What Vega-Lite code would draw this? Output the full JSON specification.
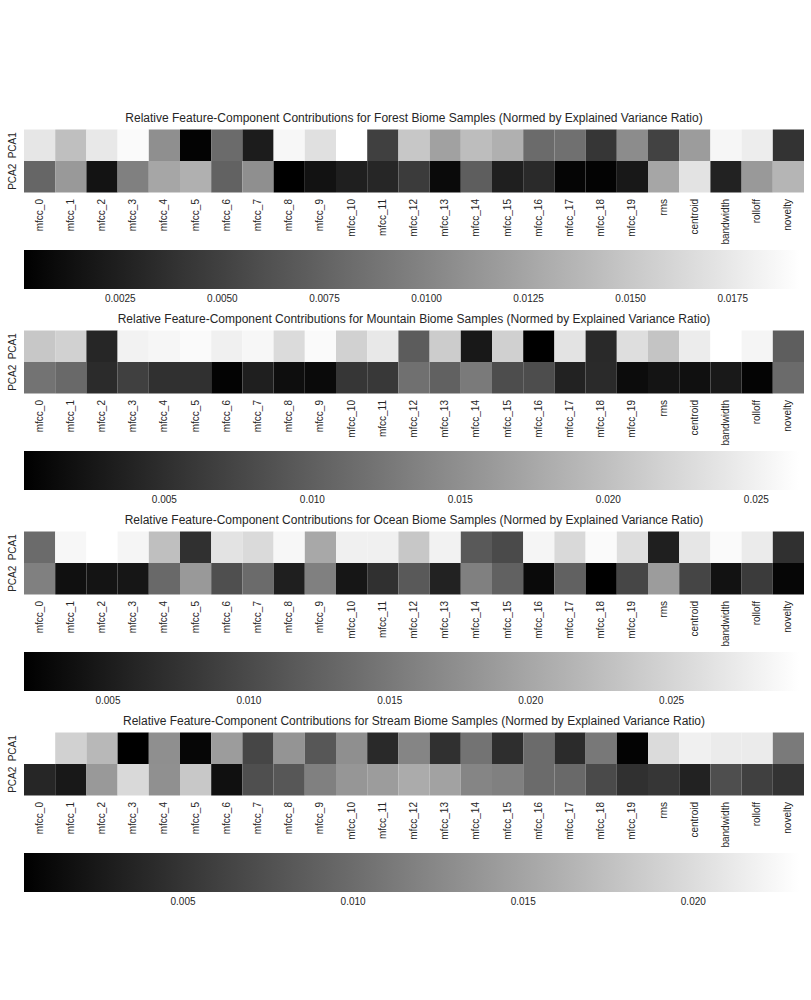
{
"$schema": "https://vega.github.io/schema/vega-lite/v6.json",
"padding": {"left": 7, "top": 111.5, "right": 0, "bottom": 0},
"background": "white",
"data": {"values": [
{"b":"Forest","f":"mfcc_0","pc":"PCA1","v":0.017226},{"b":"Forest","f":"mfcc_1","pc":"PCA1","v":0.014378},{"b":"Forest","f":"mfcc_2","pc":"PCA1","v":0.017416},{"b":"Forest","f":"mfcc_3","pc":"PCA1","v":0.018744},{"b":"Forest","f":"mfcc_4","pc":"PCA1","v":0.010771},{"b":"Forest","f":"mfcc_5","pc":"PCA1","v":0.000331},{"b":"Forest","f":"mfcc_6","pc":"PCA1","v":0.008114},{"b":"Forest","f":"mfcc_7","pc":"PCA1","v":0.002229},{"b":"Forest","f":"mfcc_8","pc":"PCA1","v":0.018555},{"b":"Forest","f":"mfcc_9","pc":"PCA1","v":0.016846},{"b":"Forest","f":"mfcc_10","pc":"PCA1","v":0.019124},{"b":"Forest","f":"mfcc_11","pc":"PCA1","v":0.004887},{"b":"Forest","f":"mfcc_12","pc":"PCA1","v":0.014948},{"b":"Forest","f":"mfcc_13","pc":"PCA1","v":0.0121},{"b":"Forest","f":"mfcc_14","pc":"PCA1","v":0.014188},{"b":"Forest","f":"mfcc_15","pc":"PCA1","v":0.013239},{"b":"Forest","f":"mfcc_16","pc":"PCA1","v":0.008114},{"b":"Forest","f":"mfcc_17","pc":"PCA1","v":0.008494},{"b":"Forest","f":"mfcc_18","pc":"PCA1","v":0.004127},{"b":"Forest","f":"mfcc_19","pc":"PCA1","v":0.010582},{"b":"Forest","f":"rms","pc":"PCA1","v":0.005077},{"b":"Forest","f":"centroid","pc":"PCA1","v":0.011721},{"b":"Forest","f":"bandwidth","pc":"PCA1","v":0.01846},{"b":"Forest","f":"rolloff","pc":"PCA1","v":0.017795},{"b":"Forest","f":"novelty","pc":"PCA1","v":0.003938},
{"b":"Forest","f":"mfcc_0","pc":"PCA2","v":0.007734},{"b":"Forest","f":"mfcc_1","pc":"PCA2","v":0.011531},{"b":"Forest","f":"mfcc_2","pc":"PCA2","v":0.001565},{"b":"Forest","f":"mfcc_3","pc":"PCA2","v":0.009633},{"b":"Forest","f":"mfcc_4","pc":"PCA2","v":0.01248},{"b":"Forest","f":"mfcc_5","pc":"PCA2","v":0.013239},{"b":"Forest","f":"mfcc_6","pc":"PCA2","v":0.007449},{"b":"Forest","f":"mfcc_7","pc":"PCA2","v":0.010771},{"b":"Forest","f":"mfcc_8","pc":"PCA2","v":0.000141},{"b":"Forest","f":"mfcc_9","pc":"PCA2","v":0.00147},{"b":"Forest","f":"mfcc_10","pc":"PCA2","v":0.002419},{"b":"Forest","f":"mfcc_11","pc":"PCA2","v":0.002988},{"b":"Forest","f":"mfcc_12","pc":"PCA2","v":0.004507},{"b":"Forest","f":"mfcc_13","pc":"PCA2","v":0.0009},{"b":"Forest","f":"mfcc_14","pc":"PCA2","v":0.007165},{"b":"Forest","f":"mfcc_15","pc":"PCA2","v":0.002419},{"b":"Forest","f":"mfcc_16","pc":"PCA2","v":0.003273},{"b":"Forest","f":"mfcc_17","pc":"PCA2","v":0.000521},{"b":"Forest","f":"mfcc_18","pc":"PCA2","v":0.000331},{"b":"Forest","f":"mfcc_19","pc":"PCA2","v":0.001944},{"b":"Forest","f":"rms","pc":"PCA2","v":0.01248},{"b":"Forest","f":"centroid","pc":"PCA2","v":0.017036},{"b":"Forest","f":"bandwidth","pc":"PCA2","v":0.002704},{"b":"Forest","f":"rolloff","pc":"PCA2","v":0.011531},{"b":"Forest","f":"novelty","pc":"PCA2","v":0.013619},
{"b":"Mountain","f":"mfcc_0","pc":"PCA1","v":0.02068},{"b":"Mountain","f":"mfcc_1","pc":"PCA1","v":0.021727},{"b":"Mountain","f":"mfcc_2","pc":"PCA1","v":0.004184},{"b":"Mountain","f":"mfcc_3","pc":"PCA1","v":0.025131},{"b":"Mountain","f":"mfcc_4","pc":"PCA1","v":0.025524},{"b":"Mountain","f":"mfcc_5","pc":"PCA1","v":0.025916},{"b":"Mountain","f":"mfcc_6","pc":"PCA1","v":0.024869},{"b":"Mountain","f":"mfcc_7","pc":"PCA1","v":0.025655},{"b":"Mountain","f":"mfcc_8","pc":"PCA1","v":0.022774},{"b":"Mountain","f":"mfcc_9","pc":"PCA1","v":0.025916},{"b":"Mountain","f":"mfcc_10","pc":"PCA1","v":0.021727},{"b":"Mountain","f":"mfcc_11","pc":"PCA1","v":0.024084},{"b":"Mountain","f":"mfcc_12","pc":"PCA1","v":0.009683},{"b":"Mountain","f":"mfcc_13","pc":"PCA1","v":0.021203},{"b":"Mountain","f":"mfcc_14","pc":"PCA1","v":0.002744},{"b":"Mountain","f":"mfcc_15","pc":"PCA1","v":0.021596},{"b":"Mountain","f":"mfcc_16","pc":"PCA1","v":0.000257},{"b":"Mountain","f":"mfcc_17","pc":"PCA1","v":0.02356},{"b":"Mountain","f":"mfcc_18","pc":"PCA1","v":0.004446},{"b":"Mountain","f":"mfcc_19","pc":"PCA1","v":0.023036},{"b":"Mountain","f":"rms","pc":"PCA1","v":0.020418},{"b":"Mountain","f":"centroid","pc":"PCA1","v":0.024476},{"b":"Mountain","f":"bandwidth","pc":"PCA1","v":0.02644},{"b":"Mountain","f":"rolloff","pc":"PCA1","v":0.025393},{"b":"Mountain","f":"novelty","pc":"PCA1","v":0.009945},
{"b":"Mountain","f":"mfcc_0","pc":"PCA2","v":0.012039},{"b":"Mountain","f":"mfcc_1","pc":"PCA2","v":0.010992},{"b":"Mountain","f":"mfcc_2","pc":"PCA2","v":0.004708},{"b":"Mountain","f":"mfcc_3","pc":"PCA2","v":0.006803},{"b":"Mountain","f":"mfcc_4","pc":"PCA2","v":0.005232},{"b":"Mountain","f":"mfcc_5","pc":"PCA2","v":0.005232},{"b":"Mountain","f":"mfcc_6","pc":"PCA2","v":0.000519},{"b":"Mountain","f":"mfcc_7","pc":"PCA2","v":0.003399},{"b":"Mountain","f":"mfcc_8","pc":"PCA2","v":0.001697},{"b":"Mountain","f":"mfcc_9","pc":"PCA2","v":0.001304},{"b":"Mountain","f":"mfcc_10","pc":"PCA2","v":0.005755},{"b":"Mountain","f":"mfcc_11","pc":"PCA2","v":0.006017},{"b":"Mountain","f":"mfcc_12","pc":"PCA2","v":0.011778},{"b":"Mountain","f":"mfcc_13","pc":"PCA2","v":0.010207},{"b":"Mountain","f":"mfcc_14","pc":"PCA2","v":0.012825},{"b":"Mountain","f":"mfcc_15","pc":"PCA2","v":0.008112},{"b":"Mountain","f":"mfcc_16","pc":"PCA2","v":0.008112},{"b":"Mountain","f":"mfcc_17","pc":"PCA2","v":0.003792},{"b":"Mountain","f":"mfcc_18","pc":"PCA2","v":0.004577},{"b":"Mountain","f":"mfcc_19","pc":"PCA2","v":0.001488},{"b":"Mountain","f":"rms","pc":"PCA2","v":0.002352},{"b":"Mountain","f":"centroid","pc":"PCA2","v":0.001907},{"b":"Mountain","f":"bandwidth","pc":"PCA2","v":0.002875},{"b":"Mountain","f":"rolloff","pc":"PCA2","v":0.00065},{"b":"Mountain","f":"novelty","pc":"PCA2","v":0.011254},
{"b":"Ocean","f":"mfcc_0","pc":"PCA1","v":0.01357},{"b":"Ocean","f":"mfcc_1","pc":"PCA1","v":0.028695},{"b":"Ocean","f":"mfcc_2","pc":"PCA1","v":0.02952},{"b":"Ocean","f":"mfcc_3","pc":"PCA1","v":0.02842},{"b":"Ocean","f":"mfcc_4","pc":"PCA1","v":0.022645},{"b":"Ocean","f":"mfcc_5","pc":"PCA1","v":0.007245},{"b":"Ocean","f":"mfcc_6","pc":"PCA1","v":0.026495},{"b":"Ocean","f":"mfcc_7","pc":"PCA1","v":0.025533},{"b":"Ocean","f":"mfcc_8","pc":"PCA1","v":0.028695},{"b":"Ocean","f":"mfcc_9","pc":"PCA1","v":0.02017},{"b":"Ocean","f":"mfcc_10","pc":"PCA1","v":0.02787},{"b":"Ocean","f":"mfcc_11","pc":"PCA1","v":0.02787},{"b":"Ocean","f":"mfcc_12","pc":"PCA1","v":0.02347},{"b":"Ocean","f":"mfcc_13","pc":"PCA1","v":0.028145},{"b":"Ocean","f":"mfcc_14","pc":"PCA1","v":0.011645},{"b":"Ocean","f":"mfcc_15","pc":"PCA1","v":0.009995},{"b":"Ocean","f":"mfcc_16","pc":"PCA1","v":0.02842},{"b":"Ocean","f":"mfcc_17","pc":"PCA1","v":0.025395},{"b":"Ocean","f":"mfcc_18","pc":"PCA1","v":0.02897},{"b":"Ocean","f":"mfcc_19","pc":"PCA1","v":0.025945},{"b":"Ocean","f":"rms","pc":"PCA1","v":0.00532},{"b":"Ocean","f":"centroid","pc":"PCA1","v":0.02677},{"b":"Ocean","f":"bandwidth","pc":"PCA1","v":0.02897},{"b":"Ocean","f":"rolloff","pc":"PCA1","v":0.02732},{"b":"Ocean","f":"novelty","pc":"PCA1","v":0.007245},
{"b":"Ocean","f":"mfcc_0","pc":"PCA2","v":0.01577},{"b":"Ocean","f":"mfcc_1","pc":"PCA2","v":0.003753},{"b":"Ocean","f":"mfcc_2","pc":"PCA2","v":0.00422},{"b":"Ocean","f":"mfcc_3","pc":"PCA2","v":0.004385},{"b":"Ocean","f":"mfcc_4","pc":"PCA2","v":0.013295},{"b":"Ocean","f":"mfcc_5","pc":"PCA2","v":0.01852},{"b":"Ocean","f":"mfcc_6","pc":"PCA2","v":0.010545},{"b":"Ocean","f":"mfcc_7","pc":"PCA2","v":0.01357},{"b":"Ocean","f":"mfcc_8","pc":"PCA2","v":0.00532},{"b":"Ocean","f":"mfcc_9","pc":"PCA2","v":0.01577},{"b":"Ocean","f":"mfcc_10","pc":"PCA2","v":0.004385},{"b":"Ocean","f":"mfcc_11","pc":"PCA2","v":0.007245},{"b":"Ocean","f":"mfcc_12","pc":"PCA2","v":0.011645},{"b":"Ocean","f":"mfcc_13","pc":"PCA2","v":0.005733},{"b":"Ocean","f":"mfcc_14","pc":"PCA2","v":0.01577},{"b":"Ocean","f":"mfcc_15","pc":"PCA2","v":0.01247},{"b":"Ocean","f":"mfcc_16","pc":"PCA2","v":0.00312},{"b":"Ocean","f":"mfcc_17","pc":"PCA2","v":0.01247},{"b":"Ocean","f":"mfcc_18","pc":"PCA2","v":0.00202},{"b":"Ocean","f":"mfcc_19","pc":"PCA2","v":0.009583},{"b":"Ocean","f":"rms","pc":"PCA2","v":0.018795},{"b":"Ocean","f":"centroid","pc":"PCA2","v":0.009445},{"b":"Ocean","f":"bandwidth","pc":"PCA2","v":0.003945},{"b":"Ocean","f":"rolloff","pc":"PCA2","v":0.008345},{"b":"Ocean","f":"novelty","pc":"PCA2","v":0.002708},
{"b":"Stream","f":"mfcc_0","pc":"PCA1","v":0.023107},{"b":"Stream","f":"mfcc_1","pc":"PCA1","v":0.019006},{"b":"Stream","f":"mfcc_2","pc":"PCA1","v":0.016728},{"b":"Stream","f":"mfcc_3","pc":"PCA1","v":0.000326},{"b":"Stream","f":"mfcc_4","pc":"PCA1","v":0.013083},{"b":"Stream","f":"mfcc_5","pc":"PCA1","v":0.000896},{"b":"Stream","f":"mfcc_6","pc":"PCA1","v":0.014222},{"b":"Stream","f":"mfcc_7","pc":"PCA1","v":0.006591},{"b":"Stream","f":"mfcc_8","pc":"PCA1","v":0.013539},{"b":"Stream","f":"mfcc_9","pc":"PCA1","v":0.008072},{"b":"Stream","f":"mfcc_10","pc":"PCA1","v":0.013083},{"b":"Stream","f":"mfcc_11","pc":"PCA1","v":0.003971},{"b":"Stream","f":"mfcc_12","pc":"PCA1","v":0.012172},{"b":"Stream","f":"mfcc_13","pc":"PCA1","v":0.004654},{"b":"Stream","f":"mfcc_14","pc":"PCA1","v":0.010577},{"b":"Stream","f":"mfcc_15","pc":"PCA1","v":0.004427},{"b":"Stream","f":"mfcc_16","pc":"PCA1","v":0.009894},{"b":"Stream","f":"mfcc_17","pc":"PCA1","v":0.004199},{"b":"Stream","f":"mfcc_18","pc":"PCA1","v":0.011033},{"b":"Stream","f":"mfcc_19","pc":"PCA1","v":0.000554},{"b":"Stream","f":"rms","pc":"PCA1","v":0.019918},{"b":"Stream","f":"centroid","pc":"PCA1","v":0.02174},{"b":"Stream","f":"bandwidth","pc":"PCA1","v":0.021285},{"b":"Stream","f":"rolloff","pc":"PCA1","v":0.021285},{"b":"Stream","f":"novelty","pc":"PCA1","v":0.011261},
{"b":"Stream","f":"mfcc_0","pc":"PCA2","v":0.003743},{"b":"Stream","f":"mfcc_1","pc":"PCA2","v":0.00249},{"b":"Stream","f":"mfcc_2","pc":"PCA2","v":0.013995},{"b":"Stream","f":"mfcc_3","pc":"PCA2","v":0.01969},{"b":"Stream","f":"mfcc_4","pc":"PCA2","v":0.013197},{"b":"Stream","f":"mfcc_5","pc":"PCA2","v":0.018209},{"b":"Stream","f":"mfcc_6","pc":"PCA2","v":0.001761},{"b":"Stream","f":"mfcc_7","pc":"PCA2","v":0.007388},{"b":"Stream","f":"mfcc_8","pc":"PCA2","v":0.008072},{"b":"Stream","f":"mfcc_9","pc":"PCA2","v":0.011717},{"b":"Stream","f":"mfcc_10","pc":"PCA2","v":0.013767},{"b":"Stream","f":"mfcc_11","pc":"PCA2","v":0.014222},{"b":"Stream","f":"mfcc_12","pc":"PCA2","v":0.015589},{"b":"Stream","f":"mfcc_13","pc":"PCA2","v":0.014792},{"b":"Stream","f":"mfcc_14","pc":"PCA2","v":0.012172},{"b":"Stream","f":"mfcc_15","pc":"PCA2","v":0.011717},{"b":"Stream","f":"mfcc_16","pc":"PCA2","v":0.009894},{"b":"Stream","f":"mfcc_17","pc":"PCA2","v":0.009666},{"b":"Stream","f":"mfcc_18","pc":"PCA2","v":0.006932},{"b":"Stream","f":"mfcc_19","pc":"PCA2","v":0.004654},{"b":"Stream","f":"rms","pc":"PCA2","v":0.00511},{"b":"Stream","f":"centroid","pc":"PCA2","v":0.003401},{"b":"Stream","f":"bandwidth","pc":"PCA2","v":0.007274},{"b":"Stream","f":"rolloff","pc":"PCA2","v":0.006021},{"b":"Stream","f":"novelty","pc":"PCA2","v":0.004882}
]},
"vconcat": [
{"title": "Relative Feature-Component Contributions for Forest Biome Samples (Normed by Explained Variance Ratio)",
 "width": 780, "height": 63,
 "transform": [{"filter": "datum.b === 'Forest'"}],
 "mark": {"type": "rect"},
 "encoding": {
  "x": {"field": "f", "type": "nominal", "title": null, "sort": ["mfcc_0","mfcc_1","mfcc_2","mfcc_3","mfcc_4","mfcc_5","mfcc_6","mfcc_7","mfcc_8","mfcc_9","mfcc_10","mfcc_11","mfcc_12","mfcc_13","mfcc_14","mfcc_15","mfcc_16","mfcc_17","mfcc_18","mfcc_19","rms","centroid","bandwidth","rolloff","novelty"]},
  "y": {"field": "pc", "type": "nominal", "title": null, "sort": ["PCA1","PCA2"]},
  "color": {"field": "v", "type": "quantitative", "scale": {"domain": [0.000141, 0.019124], "range": ["#000000", "#ffffff"], "interpolate": "rgb"},
   "legend": {"orient": "none", "legendX": 0, "legendY": 120.5, "direction": "horizontal", "gradientLength": 775, "gradientThickness": 39, "labelOffset": 5, "values": [0.0025,0.005,0.0075,0.01,0.0125,0.015,0.0175], "format": ".4f", "title": null}}
 }},
{"title": "Relative Feature-Component Contributions for Mountain Biome Samples (Normed by Explained Variance Ratio)",
 "width": 780, "height": 63,
 "transform": [{"filter": "datum.b === 'Mountain'"}],
 "mark": {"type": "rect"},
 "encoding": {
  "x": {"field": "f", "type": "nominal", "title": null, "sort": ["mfcc_0","mfcc_1","mfcc_2","mfcc_3","mfcc_4","mfcc_5","mfcc_6","mfcc_7","mfcc_8","mfcc_9","mfcc_10","mfcc_11","mfcc_12","mfcc_13","mfcc_14","mfcc_15","mfcc_16","mfcc_17","mfcc_18","mfcc_19","rms","centroid","bandwidth","rolloff","novelty"]},
  "y": {"field": "pc", "type": "nominal", "title": null, "sort": ["PCA1","PCA2"]},
  "color": {"field": "v", "type": "quantitative", "scale": {"domain": [0.000257, 0.02644], "range": ["#000000", "#ffffff"], "interpolate": "rgb"},
   "legend": {"orient": "none", "legendX": 0, "legendY": 120.5, "direction": "horizontal", "gradientLength": 775, "gradientThickness": 39, "labelOffset": 5, "values": [0.005,0.01,0.015,0.02,0.025], "format": ".3f", "title": null}}
 }},
{"title": "Relative Feature-Component Contributions for Ocean Biome Samples (Normed by Explained Variance Ratio)",
 "width": 780, "height": 63,
 "transform": [{"filter": "datum.b === 'Ocean'"}],
 "mark": {"type": "rect"},
 "encoding": {
  "x": {"field": "f", "type": "nominal", "title": null, "sort": ["mfcc_0","mfcc_1","mfcc_2","mfcc_3","mfcc_4","mfcc_5","mfcc_6","mfcc_7","mfcc_8","mfcc_9","mfcc_10","mfcc_11","mfcc_12","mfcc_13","mfcc_14","mfcc_15","mfcc_16","mfcc_17","mfcc_18","mfcc_19","rms","centroid","bandwidth","rolloff","novelty"]},
  "y": {"field": "pc", "type": "nominal", "title": null, "sort": ["PCA1","PCA2"]},
  "color": {"field": "v", "type": "quantitative", "scale": {"domain": [0.00202, 0.02952], "range": ["#000000", "#ffffff"], "interpolate": "rgb"},
   "legend": {"orient": "none", "legendX": 0, "legendY": 120.5, "direction": "horizontal", "gradientLength": 775, "gradientThickness": 39, "labelOffset": 5, "values": [0.005,0.01,0.015,0.02,0.025], "format": ".3f", "title": null}}
 }},
{"title": "Relative Feature-Component Contributions for Stream Biome Samples (Normed by Explained Variance Ratio)",
 "width": 780, "height": 63,
 "transform": [{"filter": "datum.b === 'Stream'"}],
 "mark": {"type": "rect"},
 "encoding": {
  "x": {"field": "f", "type": "nominal", "title": null, "sort": ["mfcc_0","mfcc_1","mfcc_2","mfcc_3","mfcc_4","mfcc_5","mfcc_6","mfcc_7","mfcc_8","mfcc_9","mfcc_10","mfcc_11","mfcc_12","mfcc_13","mfcc_14","mfcc_15","mfcc_16","mfcc_17","mfcc_18","mfcc_19","rms","centroid","bandwidth","rolloff","novelty"]},
  "y": {"field": "pc", "type": "nominal", "title": null, "sort": ["PCA1","PCA2"]},
  "color": {"field": "v", "type": "quantitative", "scale": {"domain": [0.000326, 0.023107], "range": ["#000000", "#ffffff"], "interpolate": "rgb"},
   "legend": {"orient": "none", "legendX": 0, "legendY": 120.5, "direction": "horizontal", "gradientLength": 775, "gradientThickness": 39, "labelOffset": 5, "values": [0.005,0.01,0.015,0.02], "format": ".3f", "title": null}}
 }}
],
"resolve": {"scale": {"color": "independent", "x": "independent", "y": "independent"}, "legend": {"color": "independent"}},
"spacing": 8,
"config": {
 "font": "Liberation Sans",
 "view": {"stroke": null},
 "scale": {"bandPaddingInner": 0, "bandPaddingOuter": 0},
 "axis": {"domain": false, "ticks": false, "grid": false, "labelFont": "Liberation Sans", "labelFontSize": 10, "labelColor": "#262626"},
 "axisX": {"labelAngle": -90, "labelAlign": "right", "labelBaseline": "middle", "labelPadding": 6},
 "axisY": {"labelAngle": -90, "labelAlign": "center", "labelBaseline": "bottom", "labelPadding": 7},
 "title": {"font": "Liberation Sans", "fontSize": 12, "fontWeight": "normal", "color": "#262626", "offset": 5},
 "legend": {"padding": 0, "labelFont": "Liberation Sans", "labelFontSize": 10, "labelColor": "#262626", "labelOffset": 5, "gradientLabelOffset": 5}
}
}
